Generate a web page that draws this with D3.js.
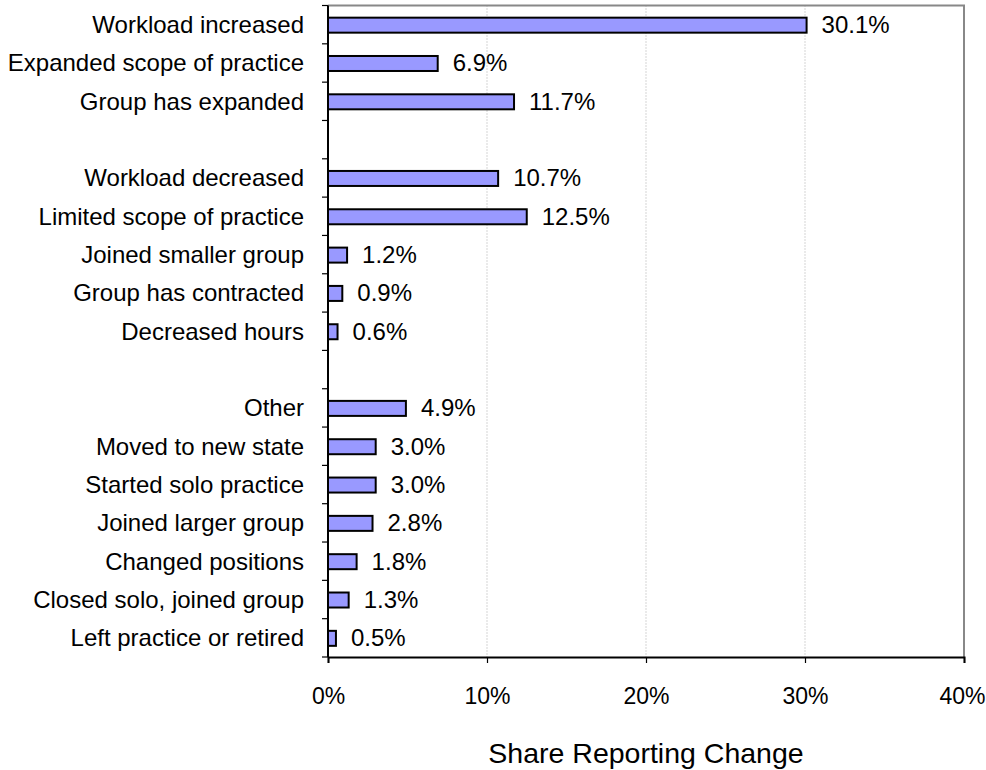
<!DOCTYPE html>
<html><head><meta charset="utf-8">
<script src="https://cdn.jsdelivr.net/npm/d3@7"></script>
<style>body{margin:0;background:#fff;} text{font-family:"Liberation Sans",Arial,sans-serif;}</style>
</head><body><svg id="c" width="986" height="770"></svg>
<script>
const categories = ["Workload increased","Expanded scope of practice","Group has expanded","",
  "Workload decreased","Limited scope of practice","Joined smaller group","Group has contracted","Decreased hours","",
  "Other","Moved to new state","Started solo practice","Joined larger group","Changed positions","Closed solo, joined group","Left practice or retired"];
const values = [30.1,6.9,11.7,null,10.7,12.5,1.2,0.9,0.6,null,4.9,3.0,3.0,2.8,1.8,1.3,0.5];
const xTicks = [0,10,20,30,40];
const xTitle = "Share Reporting Change";

const svg = d3.select("#c");
const L=328, R=964, T=5.5, B=657;
const x = d3.scaleLinear().domain([0,40]).range([L,R]);
const slot = (B-T)/categories.length;

// gridlines
svg.append("g").selectAll("line").data(xTicks.filter(t=>t>0&&t<40)).join("line")
  .attr("x1",d=>x(d)).attr("x2",d=>x(d)).attr("y1",T).attr("y2",B)
  .attr("stroke","#aaa").attr("stroke-width",1).attr("stroke-dasharray","1,2");
// frame top/right
svg.append("path").attr("d",`M${L},${T}H${R}V${B}`).attr("fill","none").attr("stroke","#888").attr("stroke-width",2);

const data = categories.map((c,i)=>({c,i,v:values[i]}));
const bars = data.filter(d=>d.v!=null);
const bh = 15;
svg.append("g").selectAll("rect").data(bars).join("rect")
  .attr("x",x(0)).attr("y",d=>T+slot*(d.i+0.5)-bh/2+0.5)
  .attr("width",d=>x(d.v)-x(0)).attr("height",bh)
  .attr("fill","#9999FF").attr("stroke","#000").attr("stroke-width",2);
svg.append("g").selectAll("text").data(bars).join("text")
  .attr("x",d=>x(d.v)+15).attr("y",d=>T+slot*(d.i+0.5)+8.5)
  .attr("font-size",24).attr("fill","#000")
  .text(d=>d.v.toFixed(1)+"%");
// category labels
svg.append("g").selectAll("text").data(data.filter(d=>d.c)).join("text")
  .attr("x",304).attr("y",d=>T+slot*(d.i+0.5)+8.5)
  .attr("text-anchor","end").attr("font-size",24).attr("fill","#000")
  .text(d=>d.c);
// left axis with ticks at slot boundaries
svg.append("line").attr("x1",L).attr("x2",L).attr("y1",T).attr("y2",B).attr("stroke","#000").attr("stroke-width",2);
svg.append("g").selectAll("line").data(d3.range(categories.length+1)).join("line")
  .attr("x1",L-6).attr("x2",L).attr("y1",i=>T+slot*i).attr("y2",i=>T+slot*i)
  .attr("stroke","#000").attr("stroke-width",1.2);
// bottom axis
const xa = svg.append("g").attr("transform",`translate(0,${B})`)
  .call(d3.axisBottom(x).tickValues(xTicks).tickFormat(d=>d+"%").tickSize(6));
xa.select(".domain").attr("stroke","#000").attr("stroke-width",2);
xa.selectAll(".tick line").attr("stroke","#000").attr("stroke-width",1.2);
xa.selectAll("text").attr("y",47).attr("dy",null).attr("font-size",23).attr("fill","#000").attr("font-family","Liberation Sans, Arial, sans-serif")
  .attr("x",d=>d===40?-2:0);
svg.append("text").attr("x",646).attr("y",763).attr("text-anchor","middle")
  .attr("font-size",28.5).attr("fill","#000").text(xTitle);
</script></body></html>
